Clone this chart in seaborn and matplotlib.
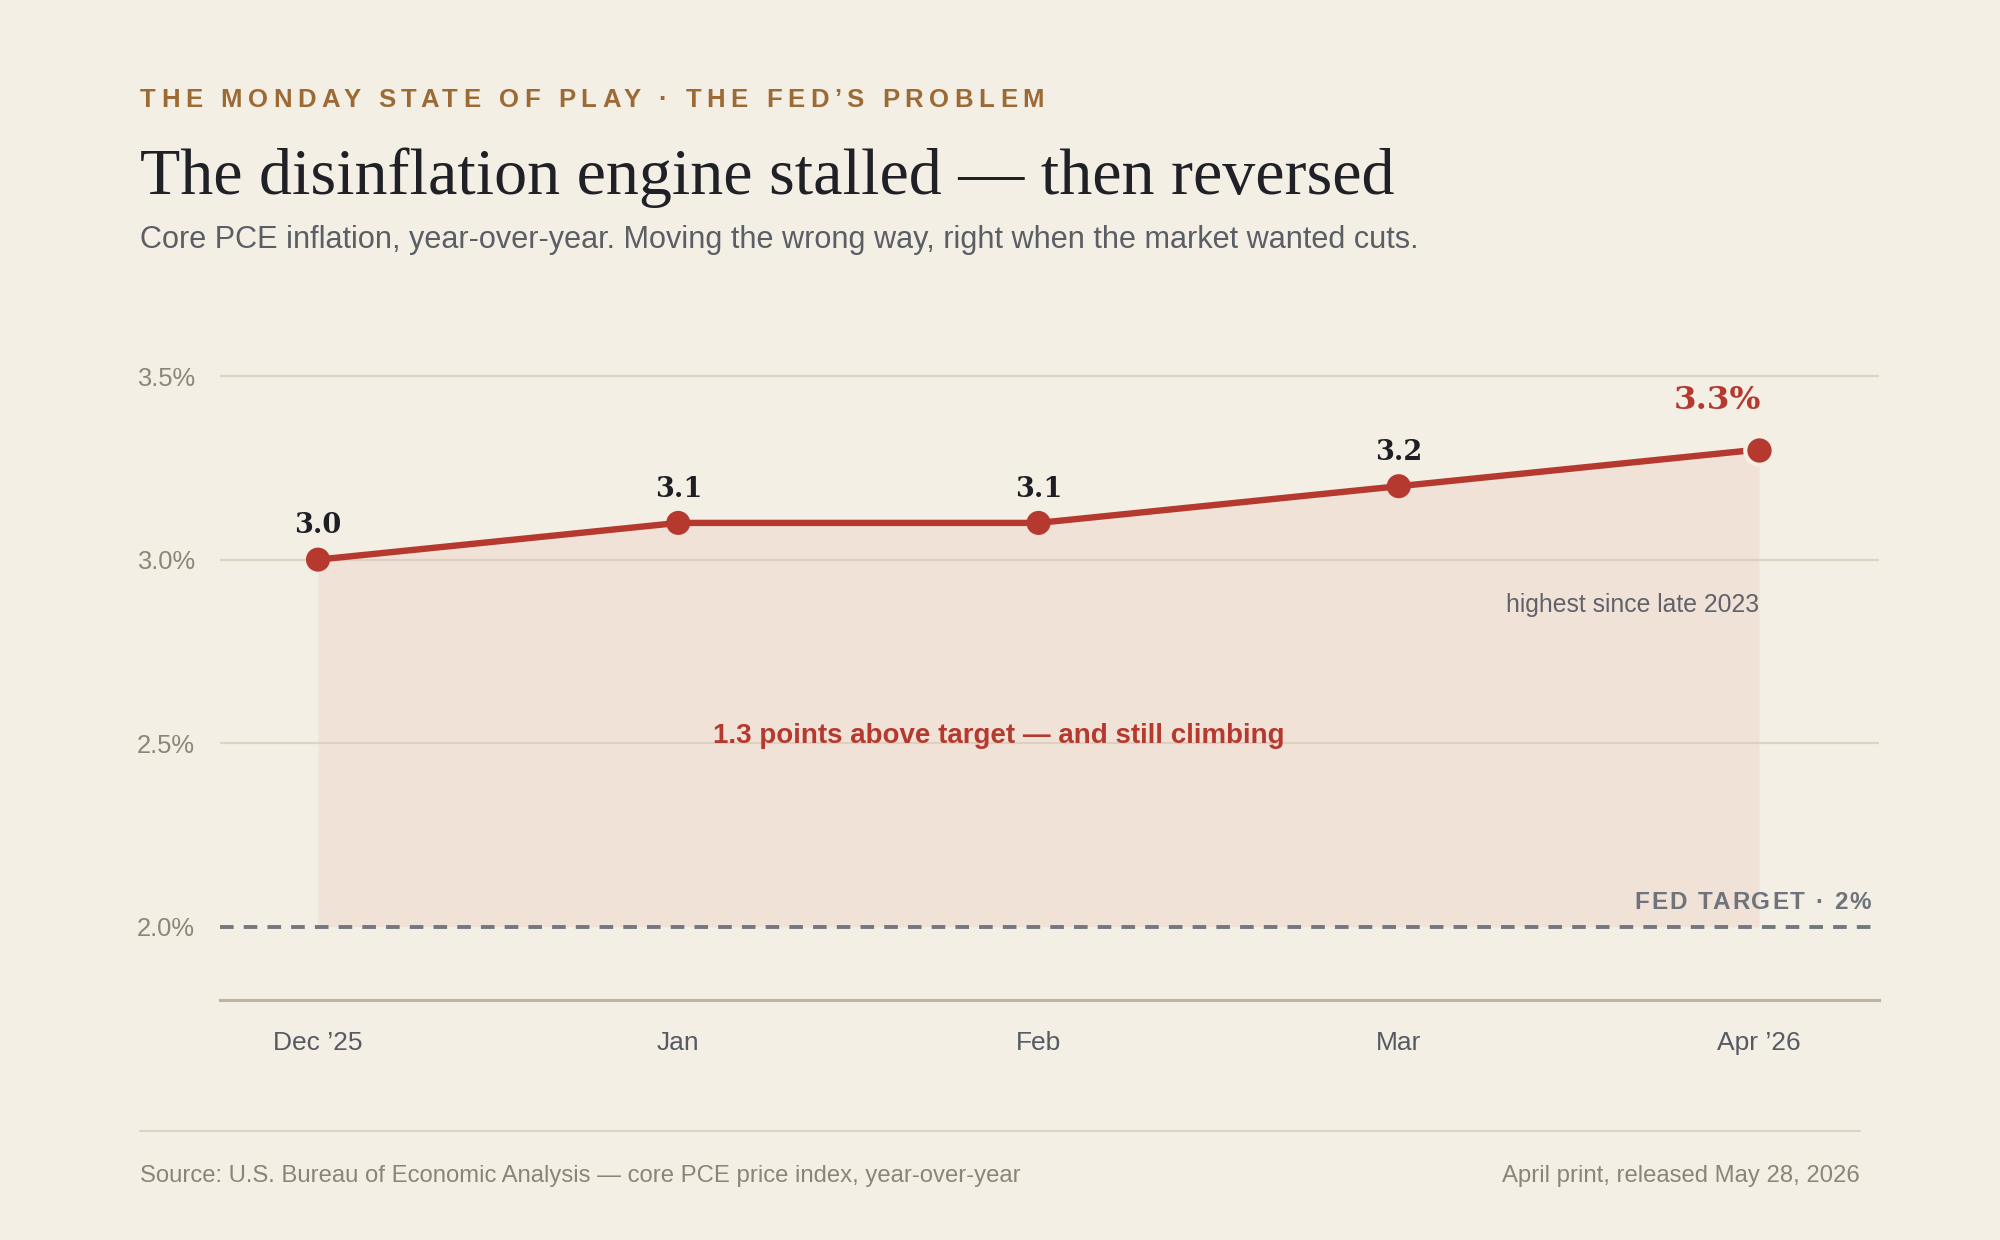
import numpy as np
import pandas as pd
import seaborn as sns

import matplotlib
matplotlib.use("Agg")  # headless mode (no GUI)

import matplotlib.pyplot as plt

# data
months = ["Dec \u201925", "Jan", "Feb", "Mar", "Apr \u201926"]
core_pce = [3.0, 3.1, 3.1, 3.2, 3.3]
y_ticks = [2.0, 2.5, 3.0, 3.5]
fed_target = 2.0

BG = "#f3efe5"
RED = "#b5392f"
SANS = ["Liberation Sans", "DejaVu Sans"]
SERIF = ["Liberation Serif", "DejaVu Serif"]

sns.set_theme(style="white")
plt.rcParams["font.family"] = SANS

W, H = 2000, 1240
fig = plt.figure(figsize=(W / 100, H / 100), dpi=100, facecolor=BG)
ax = fig.add_axes([0.11, 0.1935, 0.8295, 0.5328], facecolor=BG)

df = pd.DataFrame({"pos": np.arange(len(months)), "month": months, "pce": core_pce})

# shaded gap between the line and the target
ax.fill_between(df["pos"], fed_target, df["pce"], color="#f1e2d7", lw=0, zorder=0.5)

for t in y_ticks[1:]:
    ax.axhline(t, color="#d8cbb8", lw=1.6, alpha=0.75, zorder=1)
ax.axhline(fed_target, color="#737780", lw=2.8, ls=(0, (3.5, 2.6)), zorder=2)

sns.lineplot(data=df, x="pos", y="pce", color=RED, lw=4.6, ax=ax, zorder=3)
sns.scatterplot(data=df.iloc[:-1], x="pos", y="pce", color=RED, s=300,
                edgecolor="none", ax=ax, zorder=4)
sns.scatterplot(data=df.iloc[-1:], x="pos", y="pce", color=RED, s=420,
                edgecolor=BG, linewidth=3, ax=ax, zorder=5)

# value labels
for _, row in df.iloc[:-1].iterrows():
    ax.annotate(f"{row.pce:.1f}", (row.pos, row.pce), xytext=(0, 19),
                textcoords="offset points", ha="center", va="baseline",
                fontsize=19.5, fontweight="bold", color="#1d1f24",
                family=["DejaVu Serif"])
last = df.iloc[-1]
ax.annotate(f"{last.pce:.1f}%", (last.pos, last.pce), xytext=(-30, 29),
            textcoords="offset points", ha="center", va="baseline",
            fontsize=23.4, fontweight="bold", color=RED, family=["DejaVu Serif"])
ax.annotate("highest since late 2023", (last.pos, last.pce), xytext=(0, -117),
            textcoords="offset points", ha="right", va="baseline",
            fontsize=17.8, color="#5f6269")

ax.text(1.89, 2.52, "1.3 points above target \u2014 and still climbing",
        ha="center", va="center", fontsize=20, fontweight="bold", color=RED)

ax.set_xlim(-0.272, 4.333)
ax.set_ylim(1.8, 3.6)
ax.set_xticks(df["pos"], months)
ax.set_yticks(y_ticks, [f"{t:.1f}%" for t in y_ticks])
ax.tick_params(axis="x", length=0, pad=22.5, labelsize=19, labelcolor="#555a63")
ax.tick_params(axis="y", length=0, pad=18, labelsize=18.4, labelcolor="#8b8676")
ax.set_xlabel("")
ax.set_ylabel("")
for side in ["top", "left", "right"]:
    ax.spines[side].set_visible(False)
ax.spines["bottom"].set_color("#bfb3a0")
ax.spines["bottom"].set_linewidth(2.2)

renderer = fig.canvas.get_renderer()


def text_width(s, **kw):
    t = fig.text(0, 0, s, **kw)
    w = t.get_window_extent(renderer).width
    t.remove()
    return w


def tracked_text(x_px, y_px, s, track, ha="left", **kw):
    """Draw letter-spaced text one glyph at a time."""
    total = text_width(s, **kw) + track * (len(s) - 1)
    x0 = x_px - total if ha == "right" else x_px
    for i, ch in enumerate(s):
        if ch == " ":
            continue
        off = text_width(s[:i + 1], **kw) - text_width(ch, **kw)
        fig.text((x0 + off + i * track) / W, 1 - y_px / H, ch,
                 ha="left", va="baseline", **kw)


# header
tracked_text(140, 107, "THE MONDAY STATE OF PLAY \u00b7 THE FED\u2019S PROBLEM", 5.5,
             fontsize=18.5, fontweight="bold", color="#9c6a35")
fig.text(140 / W, 1 - 194 / H, "The disinflation engine stalled \u2014 then reversed",
         fontsize=47.5, color="#1f2126", family=SERIF, va="baseline")
fig.text(140 / W, 1 - 248 / H,
         "Core PCE inflation, year-over-year. Moving the wrong way, right when the market wanted cuts.",
         fontsize=22.1, color="#5a5f66", va="baseline")

# target label
tracked_text(1871, 909, "FED TARGET \u00b7 2%", 1.9, ha="right",
             fontsize=17.5, fontweight="bold", color="#6f737b")

# footer
fig.add_artist(plt.Line2D([140 / W, 1860 / W], [1 - 1131 / H] * 2, color="#ddd5c4", lw=1.5))
fig.text(140 / W, 1 - 1182 / H,
         "Source: U.S. Bureau of Economic Analysis \u2014 core PCE price index, year-over-year",
         fontsize=17.2, color="#8a8575", va="baseline")
fig.text(1860 / W, 1 - 1182 / H, "April print, released May 28, 2026",
         fontsize=17.2, color="#8a8575", va="baseline", ha="right")

fig.savefig("out.png", dpi=100, facecolor=BG)
